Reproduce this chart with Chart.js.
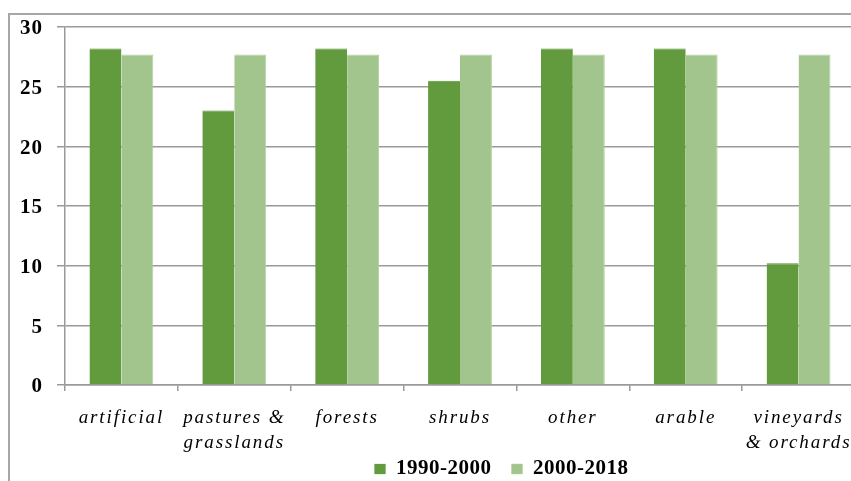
<!DOCTYPE html>
<html>
<head>
<meta charset="utf-8">
<script src="https://cdn.jsdelivr.net/npm/chart.js@4.4.1/dist/chart.umd.min.js"></script>
<style>
  html, body { margin: 0; padding: 0; background: #fff; width: 851px; height: 481px; overflow: hidden; }
  #frame { position: absolute; left: 8px; top: 13px; width: 900px; height: 500px;
           border-left: 2px solid #a6a6a6; border-top: 2px solid #a6a6a6; }
  #wrap { position: absolute; left: 10px; top: 15px; width: 880px; height: 466px; }
</style>
</head>
<body>
<div id="frame"></div>
<div id="wrap"><canvas id="c" width="880" height="466"></canvas></div>
<script>
const categories = [["artificial"], ["pastures &", "grasslands"], ["forests"], ["shrubs"], ["other"], ["arable"], ["vineyards", "& orchards"]];
const series1990 = [28.2, 23.0, 28.2, 25.5, 28.2, 28.2, 10.2];
const series2000 = [27.7, 27.7, 27.7, 27.7, 27.7, 27.7, 27.7];
const seriesNames = ["1990-2000", "2000-2018"];
const yTicks = [0, 5, 10, 15, 20, 25, 30];

const darkGreen = "#629a3e";
const lightGreen = "#a2c58e";
const serif = "'Liberation Serif', 'Times New Roman', serif";

const spacingPlugin = {
  id: "spacing",
  beforeLayout(chart) { chart.ctx.letterSpacing = "0.5px"; },
  beforeDraw(chart) { chart.ctx.letterSpacing = "0.5px"; },
  afterLayout(chart) {
    if (chart.legend) { chart.legend.left += 69; chart.legend.right += 69; }
  }
};

const ctx = document.getElementById("c").getContext("2d");
const chart = new Chart(ctx, {
  type: "bar",
  data: {
    labels: categories,
    datasets: [
      { label: seriesNames[0], data: series1990, backgroundColor: darkGreen, borderColor: "#5a9036", borderWidth: {top: 1, left: 0, right: 0, bottom: 0}, borderSkipped: false, categoryPercentage: 0.566, barPercentage: 1.0 },
      { label: seriesNames[1], data: series2000, backgroundColor: lightGreen, borderColor: "#b4d2a2", borderWidth: {top: 1, left: 0, right: 1, bottom: 0}, borderSkipped: false, categoryPercentage: 0.566, barPercentage: 1.0 }
    ]
  },
  plugins: [spacingPlugin],
  options: {
    responsive: false,
    animation: false,
    devicePixelRatio: 1,
    layout: { padding: { left: 0, right: 35, top: 12, bottom: -8.5 } },
    plugins: {
      tooltip: { enabled: false },
      legend: {
        position: "bottom",
        labels: {
          boxWidth: 11, boxHeight: 10, padding: 20,
          color: "#000",
          font: { family: serif, size: 21, weight: "bold" }
        }
      }
    },
    scales: {
      x: {
        offset: true,
        afterFit: (s) => { s.height = 53.5; s.paddingLeft = 0; s.paddingRight = 0; },
        grid: { display: true, drawOnChartArea: false, drawTicks: true, tickLength: 6, color: "#9a9a9a", lineWidth: 1.5, offset: true },
        border: { display: true, color: "#9a9a9a", width: 1.5 },
        ticks: {
          autoSkip: false, maxRotation: 0, minRotation: 0, padding: 15,
          color: "#000",
          font: { family: serif, size: 19, style: "italic", lineHeight: 1.3 }
        }
      },
      y: {
        min: 0, max: 30,
        afterFit: (s) => { s.width = 55; s.paddingTop = 0; s.paddingBottom = 0; },
        afterBuildTicks: (s) => { s.ticks = yTicks.map(v => ({ value: v })); },
        grid: { color: "#9a9a9a", lineWidth: 1.5, tickLength: 8, drawTicks: true },
        border: { display: true, color: "#9a9a9a", width: 1.5 },
        ticks: {
          padding: 14,
          color: "#000",
          font: { family: serif, size: 21, weight: "bold" }
        }
      }
    }
  }
});

function patchLabels(scale, spacing, dy) {
  const orig = scale.drawLabels.bind(scale);
  scale._computeLabelArea = () => undefined;
  scale.drawLabels = function (area) {
    const c = chart.ctx;
    c.save();
    c.letterSpacing = spacing;
    c.translate(0, dy);
    orig(area);
    c.restore();
  };
}
patchLabels(chart.scales.x, "1.9px", 0);
patchLabels(chart.scales.y, "1px", 2);
chart.draw();
</script>
</body>
</html>
